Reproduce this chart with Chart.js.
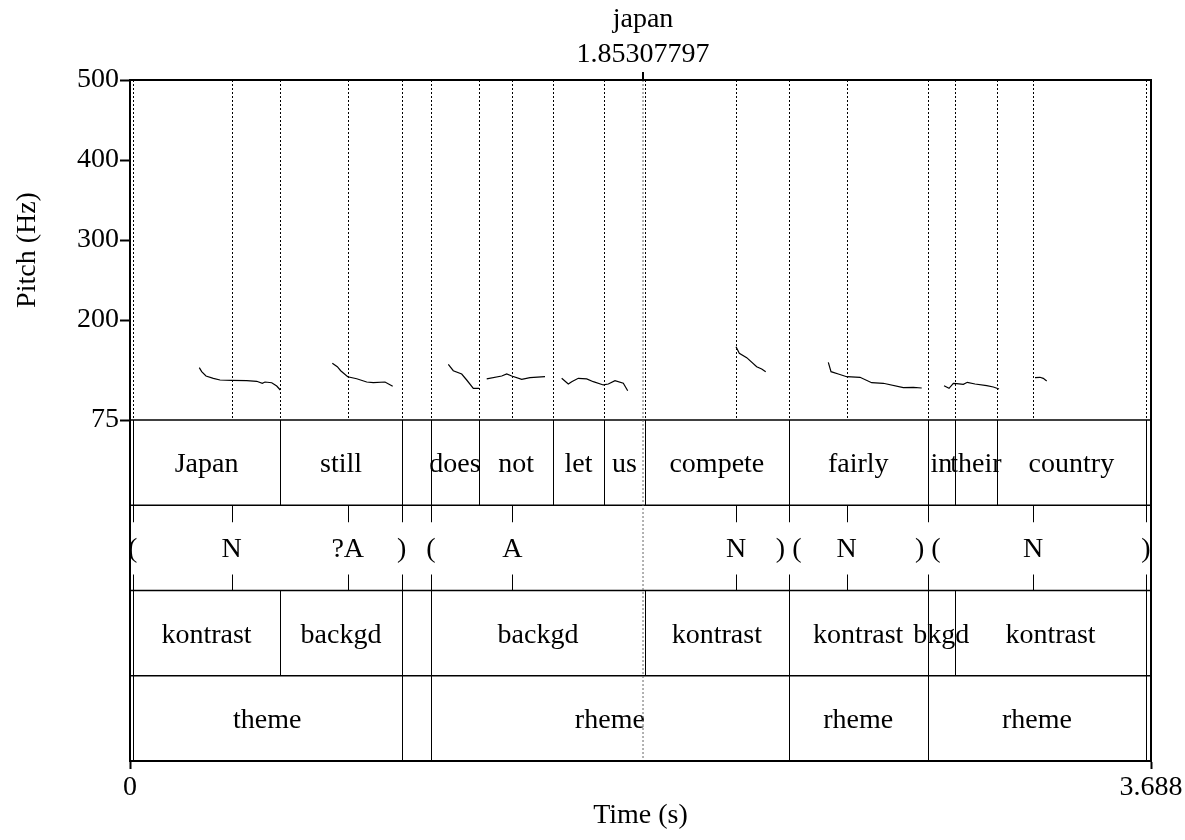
<!DOCTYPE html>
<html>
<head>
<meta charset="utf-8">
<script src="https://cdn.jsdelivr.net/npm/chart.js@4.4.1/dist/chart.umd.min.js"></script>
<style>
  html, body { margin: 0; padding: 0; background: #fff; }
  canvas { display: block; }
</style>
</head>
<body>
<canvas id="chart" width="1185" height="840"></canvas>
<script>
const timeMax = 3.688;
const timeTicks = [0, 3.688];
const pitchTicks = [75, 200, 300, 400, 500];

// pitch track; a null Hz value breaks the line between voiced stretches
const pitchTimes = [
  0.2503, 0.2589, 0.2745, 0.3010, 0.3251, 0.3674, 0.4216, 0.4577, 0.4779, 0.4877, 0.5119, 0.5300, 0.5429, 0.60,
  0.7308, 0.7488, 0.7611, 0.7864, 0.8189, 0.8550, 0.8789, 0.9211, 0.9489, 1.00,
  1.1498, 1.1678, 1.1982, 1.2162, 1.2401, 1.2607, 1.27,
  1.2885, 1.3427, 1.3608, 1.3788, 1.4149, 1.4449, 1.4991, 1.53,
  1.5593, 1.5832, 1.5955, 1.6193, 1.6497, 1.6735, 1.7097, 1.7277, 1.7519, 1.7819, 1.7978, 1.90,
  2.1890, 2.2009, 2.2276, 2.2637, 2.2818, 2.2962, 2.40,
  2.5224, 2.5322, 2.5585, 2.5889, 2.6369, 2.6791, 2.7211, 2.7933, 2.8295, 2.8598, 2.90,
  2.9404, 2.9585, 2.9740, 2.9863, 3.0101, 3.0246, 3.0524, 3.0947, 3.1185, 3.1391, 3.20,
  3.2689, 3.2870, 3.2989, 3.3112
];
const pitchHz = [
  140.4, 135.4, 130.0, 127.1, 125.0, 124.6, 124.1, 123.4, 120.9, 122.5, 121.6, 117.5, 112.5, null,
  145.9, 141.6, 136.6, 129.1, 126.6, 122.5, 121.6, 122.5, 117.1, null,
  144.6, 136.6, 132.5, 125.0, 114.6, 114.6, null,
  126.3, 130.0, 132.5, 130.0, 125.9, 127.9, 129.1, null,
  127.1, 120.0, 122.9, 127.1, 126.3, 122.9, 118.8, 120.0, 124.1, 120.9, 111.6, null,
  166.6, 158.4, 152.9, 141.6, 138.8, 135.4, null,
  147.1, 135.4, 132.5, 129.1, 128.4, 121.6, 120.9, 115.4, 115.9, 115.0, null,
  117.9, 114.6, 120.9, 120.4, 119.6, 122.1, 120.0, 117.9, 116.3, 113.8, null,
  127.9, 128.4, 127.1, 123.8
];

const cursorTime = 1.85307797;
const cursorLabel = 'japan';

// tier 1: words (interval tier)
const wordBounds = [0.0098, 0.5429, 0.9814, 1.0873, 1.2607, 1.5290, 1.7111, 1.8603, 2.3793, 2.8815, 2.9801, 3.1307, 3.6700];
const wordLabels = ['Japan', 'still', '', 'does', 'not', 'let', 'us', 'compete', 'fairly', 'in', 'their', 'country'];

// tier 2: accents (point tier)
const accentTimes = [0.0098, 0.3674, 0.7864, 0.9814, 1.0873, 1.3810, 2.1890, 2.3793, 2.5889, 2.8815, 3.2618, 3.6700];
const accentLabels = ['(', 'N', '?A', ')', '(', 'A', 'N', ') (', 'N', ') (', 'N', ')'];

// tier 3: focus (interval tier)
const focusBounds = [0.0098, 0.5429, 0.9814, 1.0873, 1.8603, 2.3793, 2.8815, 2.9801, 3.6700];
const focusLabels = ['kontrast', 'backgd', '', 'backgd', 'kontrast', 'kontrast', 'bkgd', 'kontrast'];

// tier 4: information structure (interval tier)
const infoBounds = [0.0098, 0.9814, 1.0873, 2.3793, 2.8815, 3.6700];
const infoLabels = ['theme', '', 'rheme', 'rheme', 'rheme'];

const tierList = [
  { kind: 'interval', times: wordBounds, labels: wordLabels },
  { kind: 'point', times: accentTimes, labels: accentLabels },
  { kind: 'interval', times: focusBounds, labels: focusLabels },
  { kind: 'interval', times: infoBounds, labels: infoLabels }
];

const serif = "'Liberation Serif', 'Times New Roman', serif";
Chart.defaults.font.family = serif;
Chart.defaults.font.size = 28;
Chart.defaults.color = '#000';

function vline(ctx, x, y0, y1) {
  ctx.beginPath();
  ctx.moveTo(x, y0);
  ctx.lineTo(x, y1);
  ctx.stroke();
}

const textGridPlugin = {
  id: 'textGrid',
  beforeDatasetsDraw(chart) {
    const { ctx, chartArea: area, scales: { x, y } } = chart;
    const allTimes = [...new Set([...wordBounds, ...accentTimes, ...focusBounds, ...infoBounds])];
    ctx.save();
    ctx.strokeStyle = '#000';
    ctx.lineWidth = 1;
    ctx.setLineDash([2, 2]);
    allTimes.forEach(t => {
      const xp = Math.round(x.getPixelForValue(t)) + 0.5;
      vline(ctx, xp, area.top, y.bottom);
    });
    ctx.restore();
  },
  afterDraw(chart) {
    const { ctx, chartArea: area, scales: { x, tiers } } = chart;
    const px = t => x.getPixelForValue(t);
    ctx.save();
    ctx.fillStyle = '#000';
    ctx.strokeStyle = '#000';
    ctx.font = '28px ' + serif;
    ctx.textAlign = 'center';
    ctx.textBaseline = 'alphabetic';

    tierList.forEach((tier, i) => {
      const top = tiers.getPixelForValue(i);
      const bottom = tiers.getPixelForValue(i + 1);
      const base = top + (bottom - top) * 0.61;
      ctx.lineWidth = 1;
      if (tier.kind === 'interval') {
        tier.times.forEach(t => vline(ctx, Math.round(px(t)) + 0.5, top, bottom));
        tier.labels.forEach((lab, k) => {
          if (!lab) return;
          const xm = (px(tier.times[k]) + px(tier.times[k + 1])) / 2;
          ctx.fillText(lab, xm, base);
        });
      } else {
        tier.times.forEach((t, k) => {
          const xp = Math.round(px(t)) + 0.5;
          vline(ctx, xp, top, top + 17);
          vline(ctx, xp, bottom - 16, bottom);
          ctx.fillText(tier.labels[k], px(t), base);
        });
      }
    });

    // horizontal tier separators
    ctx.lineWidth = 1.5;
    for (let i = 0; i <= tierList.length; i++) {
      const yp = tiers.getPixelForValue(i);
      ctx.beginPath();
      ctx.moveTo(area.left, yp);
      ctx.lineTo(area.right, yp);
      ctx.stroke();
    }

    // cursor
    const cx = px(cursorTime);
    ctx.strokeStyle = '#666';
    ctx.lineWidth = 1;
    ctx.setLineDash([2, 2]);
    vline(ctx, cx, area.top, area.bottom);
    ctx.setLineDash([]);
    ctx.strokeStyle = '#000';
    ctx.lineWidth = 2;
    vline(ctx, cx, area.top - 8, area.top);
    ctx.fillText(cursorLabel, cx, 27);
    ctx.fillText(cursorTime.toFixed(8), cx, 62);

    // frame
    ctx.lineWidth = 2;
    ctx.strokeRect(area.left, area.top, area.right - area.left, area.bottom - area.top);
    ctx.restore();
  }
};

new Chart(document.getElementById('chart'), {
  type: 'line',
  data: {
    datasets: [{
      label: 'Pitch',
      data: pitchTimes.map((t, i) => ({ x: t, y: pitchHz[i] })),
      xAxisID: 'x',
      yAxisID: 'y',
      borderColor: '#000',
      borderWidth: 1.2,
      pointRadius: 0,
      spanGaps: false,
      tension: 0
    }]
  },
  options: {
    responsive: false,
    animation: false,
    layout: { padding: { left: 0, right: 34, top: 80, bottom: 0 } },
    plugins: { legend: { display: false }, tooltip: { enabled: false } },
    scales: {
      x: {
        type: 'linear',
        position: 'bottom',
        min: 0,
        max: timeMax,
        afterBuildTicks: s => { s.ticks = timeTicks.map(v => ({ value: v })); },
        afterFit: s => { s.height = 79; },
        ticks: {
          autoSkip: false,
          maxRotation: 0,
          padding: 2,
          callback: v => (v === 0 ? '0' : v.toFixed(3))
        },
        grid: { drawOnChartArea: false, tickLength: 8, color: '#000', tickWidth: 2 },
        border: { color: '#000', width: 2 },
        title: { display: true, text: 'Time (s)', padding: { top: 0, bottom: 8 } }
      },
      y: {
        type: 'linear',
        position: 'left',
        stack: 'frame',
        stackWeight: 340,
        weight: 2,
        min: 75,
        max: 500,
        afterBuildTicks: s => { s.ticks = pitchTicks.map(v => ({ value: v })); },
        afterFit: s => { s.width = 130; },
        ticks: { autoSkip: false, padding: 1 },
        grid: { drawOnChartArea: false, tickLength: 10, color: '#000', tickWidth: 2 },
        border: { color: '#000', width: 2 },
        title: { display: true, text: 'Pitch (Hz)', padding: { top: 11, bottom: 0 } }
      },
      tiers: {
        type: 'linear',
        position: 'left',
        stack: 'frame',
        stackWeight: 341,
        weight: 1,
        min: 0,
        max: 4,
        reverse: true,
        afterFit: s => { s.width = 130; },
        ticks: { display: false },
        grid: { drawOnChartArea: false, drawTicks: false },
        border: { color: '#000', width: 2 }
      }
    }
  },
  plugins: [textGridPlugin]
});
</script>
</body>
</html>
